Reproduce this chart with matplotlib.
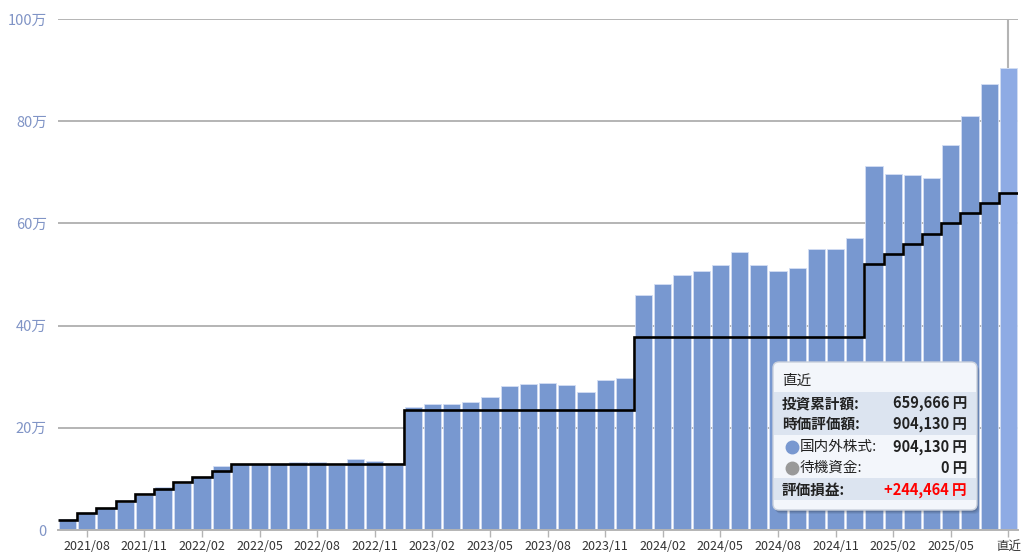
import numpy as np
import pandas as pd
import matplotlib
matplotlib.use('Agg')
import matplotlib.pyplot as plt
from matplotlib.patches import FancyBboxPatch, Rectangle

plt.rcParams['font.family'] = ['Noto Sans CJK JP', 'DejaVu Sans']

# monthly categories, last one is "latest"
months = [d.strftime('%Y/%m') for d in pd.date_range('2021-07-01', periods=49, freq='MS')] + ['直近']

# market value (万円)
value_man = [2.1, 3.3, 4.3, 5.5, 6.8, 8.5, 9.2, 10.3, 12.6, 13.0,
             13.0, 12.9, 13.3, 13.3, 12.8, 13.8, 13.6, 12.7, 24.0, 24.7,
             24.6, 25.0, 26.0, 28.1, 28.6, 28.8, 28.4, 27.1, 29.3, 29.7,
             45.9, 48.1, 50.0, 50.6, 51.9, 54.5, 51.9, 50.6, 51.3, 54.9,
             54.9, 57.1, 71.3, 69.7, 69.4, 68.8, 75.3, 81.1, 87.3, 90.413]

# cumulative investment (万円)
invest_man = [2.0, 3.4, 4.4, 5.7, 7.0, 8.0, 9.3, 10.4, 11.5, 12.9,
              12.9, 12.9, 12.9, 12.9, 12.9, 12.9, 12.9, 12.9, 23.5, 23.5,
              23.5, 23.5, 23.5, 23.5, 23.5, 23.5, 23.5, 23.5, 23.5, 23.5,
              37.7, 37.7, 37.7, 37.7, 37.7, 37.7, 37.7, 37.7, 37.7, 37.7,
              37.7, 37.7, 52.0, 54.0, 56.0, 58.0, 60.0, 62.0, 64.0, 65.9666]

ytick_vals = [0, 20, 40, 60, 80, 100]
ytick_labels = ['0', '20万', '40万', '60万', '80万', '100万']

# tooltip content
tip_title = '直近'
tip_rows = [('投資累計額:', '659,666 円', 'bold', None),
            ('時価評価額:', '904,130 円', 'bold', None),
            ('国内外株式:', '904,130 円', 'normal', '#7898d0'),
            ('待機資金:', '0 円', 'normal', '#999999'),
            ('評価損益:', '+244,464 円', 'bold', None)]

n = len(months)
x = np.arange(n)
bar_color = '#7898d0'
grid_color = '#b4b4b4'

fig = plt.figure(figsize=(10.24, 5.53), dpi=100)
ax = fig.add_axes([58 / 1024, 23 / 553, 960 / 1024, 511 / 553])

colors = [bar_color] * (n - 1) + ['#8eabe4']
ax.bar(x, value_man, width=0.9, color=colors, edgecolor='#d3def3', linewidth=0.6, zorder=2)
ax.stairs(invest_man, np.arange(n + 1) - 0.5, color='black', linewidth=1.9, zorder=3, baseline=None)
ax.vlines(x[-1], value_man[-1], 100, color=grid_color, linewidth=1.5, zorder=1)

ax.set_xlim(-0.5, n - 0.5)
ax.set_ylim(0, 100)
ax.set_yticks(ytick_vals)
ax.set_yticklabels(ytick_labels)
ax.grid(axis='y', color=grid_color, linewidth=1.4, zorder=0)
ax.set_axisbelow(True)
for side in ['top', 'right', 'left']:
    ax.spines[side].set_visible(False)
ax.spines['bottom'].set_color(grid_color)
ax.spines['bottom'].set_linewidth(1.4)

tick_idx = list(range(1, n - 1, 3)) + [n - 1]
ax.set_xticks(tick_idx)
ax.set_xticklabels([months[i] for i in tick_idx])
ax.tick_params(axis='y', length=0, pad=8, labelcolor='#8094c6', labelsize=10.5)
ax.tick_params(axis='x', length=5, color=grid_color, width=1, pad=2, labelcolor='#333333', labelsize=9)

# tooltip overlay, drawn in pixel coordinates
ov = fig.add_axes([0, 0, 1, 1], zorder=5)
ov.set_xlim(0, 1024)
ov.set_ylim(553, 0)
ov.axis('off')

bx, by, bw, bh = 773, 362, 204, 148
for off, a in [(4, 0.06), (3, 0.08), (2, 0.1)]:
    ov.add_patch(FancyBboxPatch((bx + off - 1, by + off), bw, bh,
                                boxstyle='round,pad=0,rounding_size=6',
                                fc='black', ec='none', alpha=a))
ov.add_patch(FancyBboxPatch((bx, by), bw, bh, boxstyle='round,pad=0,rounding_size=6',
                            fc='#f3f6fb', ec='#c9d0dc', lw=1))
ov.add_patch(Rectangle((bx + 1, 392), bw - 2, 43, fc='#dce4f0', ec='none'))
ov.add_patch(Rectangle((bx + 1, 478), bw - 2, 22, fc='#dce4f0', ec='none'))

ov.text(782, 381, tip_title, fontsize=10.5, va='center', ha='left', color='#222222')
row_y = [403, 424, 447, 468, 490]
for (lab, val, wt, dot), yy in zip(tip_rows, row_y):
    lx = 782
    if dot is not None:
        ov.plot(792, yy, 'o', color=dot, markersize=9)
        lx = 800
    ov.text(lx, yy, lab, fontsize=10.5, fontweight=wt, va='center', ha='left', color='#222222')
    vcol = '#ff0000' if val.startswith('+') else '#222222'
    ov.text(967, yy, val, fontsize=10.5, fontweight='bold',
            va='center', ha='right', color=vcol)

fig.savefig('out.png', dpi=100)
